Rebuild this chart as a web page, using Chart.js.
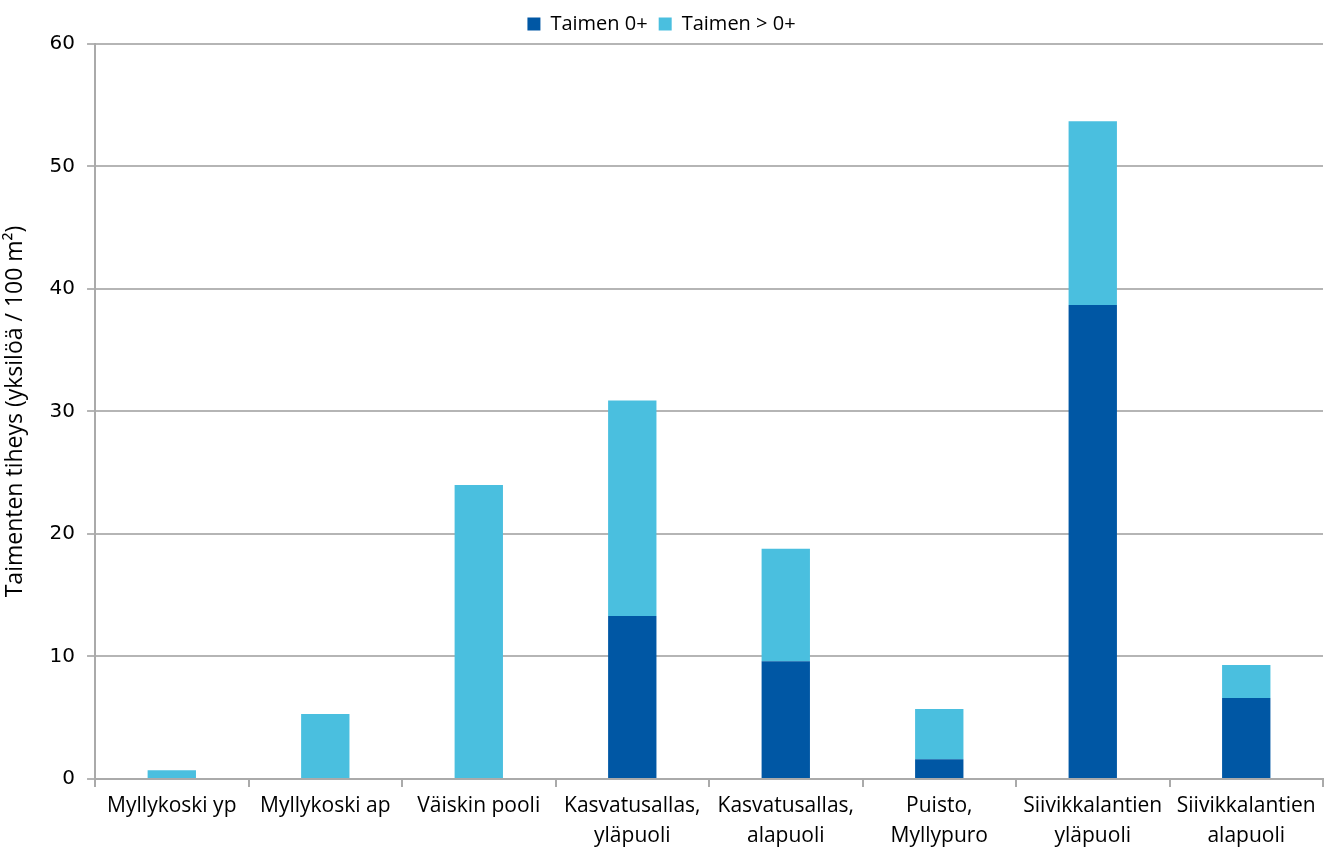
<!DOCTYPE html>
<html>
<head>
<meta charset="utf-8">
<script src="https://cdn.jsdelivr.net/npm/chart.js@4.4.0/dist/chart.umd.min.js"></script>
<style>
  body { margin: 0; background: #fff; }
  #wrap { width: 1335px; height: 855px; }
</style>
</head>
<body>
<div id="wrap"><canvas id="mycanvas"></canvas></div>
<script>
var categories = [
  "Myllykoski yp",
  "Myllykoski ap",
  "Väiskin pooli",
  ["Kasvatusallas,", "yläpuoli"],
  ["Kasvatusallas,", "alapuoli"],
  ["Puisto,", "Myllypuro"],
  ["Siivikkalantien", "yläpuoli"],
  ["Siivikkalantien", "alapuoli"]
];
var taimen0 = [0, 0, 0, 13.3, 9.6, 1.6, 38.7, 6.6];
var taimenYli0 = [0.7, 5.3, 24.0, 17.6, 9.2, 4.1, 15.0, 2.7];
var yTicks = [0, 10, 20, 30, 40, 50, 60];

var fontFamily = "'Open Sans', 'Liberation Sans', sans-serif";

var chartdata = {
  labels: categories,
  datasets: [
    {
      label: 'Taimen 0+',
      backgroundColor: '#0057a4',
      data: taimen0
    },
    {
      label: 'Taimen > 0+',
      backgroundColor: '#4abfdf',
      data: taimenYli0
    }
  ]
};

var ctx = document.getElementById('mycanvas');

var barGraph = new Chart(ctx, {
  type: 'bar',
  data: chartdata,
  options: {
    responsive: true,
    maintainAspectRatio: false,
    animation: false,
    layout: { padding: { left: 0, right: 12, top: 3, bottom: 0 } },
    datasets: {
      bar: { barPercentage: 0.315, categoryPercentage: 1 }
    },
    plugins: {
      legend: {
        position: 'top',
        labels: {
          boxWidth: 13,
          boxHeight: 13,
          padding: 11,
          color: '#000',
          font: { family: fontFamily, size: 20 }
        }
      },
      tooltip: { enabled: false }
    },
    scales: {
      x: {
        stacked: true,
        grid: {
          drawOnChartArea: false,
          drawTicks: true,
          tickLength: 8,
          color: '#aaaaaa',
          lineWidth: 2
        },
        border: { color: '#aaaaaa', width: 2 },
        ticks: {
          color: '#000',
          maxRotation: 0,
          autoSkip: false,
          padding: 4,
          font: { family: fontFamily, size: 21, lineHeight: 1.43 }
        }
      },
      y: {
        stacked: true,
        min: 0,
        max: 60,
        afterBuildTicks: function(scale) {
          scale.ticks = yTicks.map(function(v) { return { value: v }; });
        },
        grid: {
          color: '#b5b5b5',
          lineWidth: 2,
          tickLength: 8
        },
        border: { color: '#aaaaaa', width: 2 },
        ticks: {
          color: '#000',
          padding: 12,
          font: { family: "'DejaVu Sans', sans-serif", size: 20 }
        },
        title: {
          display: true,
          text: 'Taimenten tiheys (yksilöä / 100 m²)',
          color: '#000',
          padding: { top: 2, bottom: 8 },
          font: { family: fontFamily, size: 23 }
        }
      }
    }
  }
});
</script>
</body>
</html>
